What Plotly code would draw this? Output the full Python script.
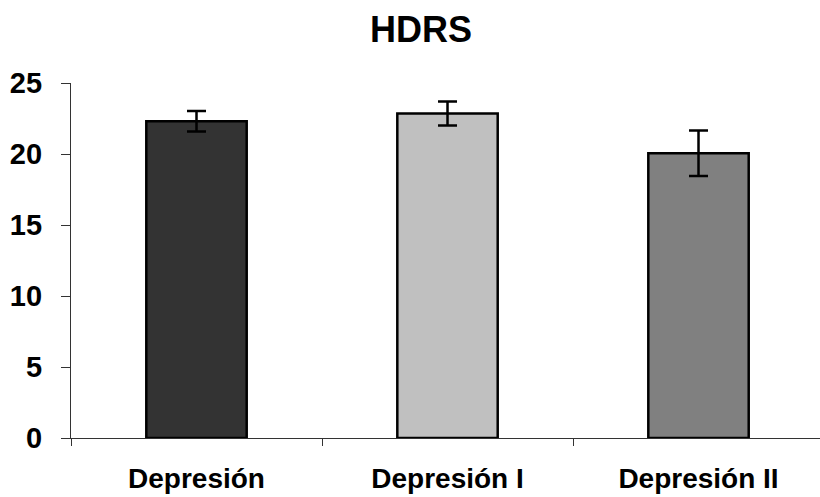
import plotly.graph_objects as go

categories = ["Depresión", "Depresión I", "Depresión II"]
means = [22.3, 22.85, 20.05]
errors = [0.72, 0.85, 1.6]
bar_colors = ["#333333", "#C0C0C0", "#808080"]
y_ticks = [0, 5, 10, 15, 20, 25]

FONT = "Liberation Sans, Arial, sans-serif"

fig = go.Figure(
    go.Bar(
        x=categories,
        y=means,
        width=0.4,
        marker=dict(color=bar_colors, line=dict(color="#000000", width=2.5)),
        error_y=dict(type="data", array=errors, visible=True,
                     color="#000000", thickness=2.5, width=9.5),
    )
)

fig.update_layout(
    width=820, height=497,
    margin=dict(l=71, r=0, t=83, b=59),
    paper_bgcolor="white", plot_bgcolor="white",
    showlegend=False,
    title=dict(text="<b>HDRS</b>", x=421 / 820, xref="container", xanchor="center",
               y=1 - 29 / 497, yref="container", yanchor="middle",
               font=dict(family=FONT, size=36, color="#000000")),
)

fig.update_xaxes(
    type="category", range=[-0.5, 2.484],
    showline=True, linecolor="#333333", linewidth=1.2,
    ticks="outside", tickson="boundaries", ticklen=7, tickcolor="#333333", tickwidth=1.2,
    showgrid=False, zeroline=False,
    tickfont=dict(family=FONT, size=28, color="#000000"),
    ticklabelstandoff=15,
    tickprefix="<b>", ticksuffix="</b>",
)

fig.update_yaxes(
    range=[0, 25], tickvals=y_ticks, ticktext=[f"<b>{v}</b>" for v in y_ticks],
    showline=True, linecolor="#333333", linewidth=1.2,
    ticks="outside", ticklen=9, tickcolor="#333333", tickwidth=1.2,
    showgrid=False, zeroline=False,
    tickfont=dict(family=FONT, size=29, color="#000000"),
    ticklabelstandoff=13,
)

fig.write_html("out.html")
